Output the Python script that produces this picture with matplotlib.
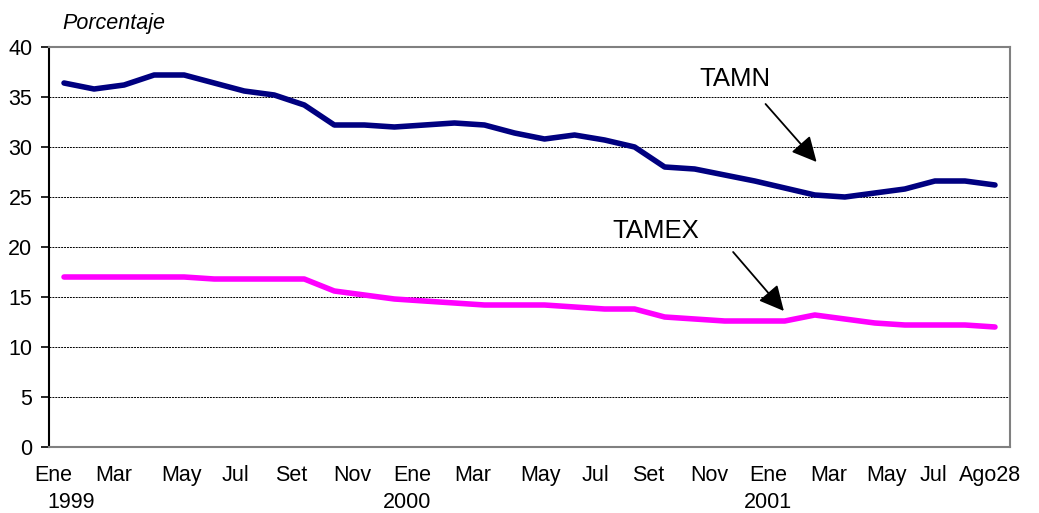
import matplotlib
matplotlib.use("Agg")
import matplotlib.pyplot as plt
import matplotlib.transforms as mtransforms

plt.rcParams['font.family'] = ['Liberation Sans', 'DejaVu Sans']

# Tasas mensuales, Ene 1999 - Ago 2001
meses = ['Ene', 'Feb', 'Mar', 'Abr', 'May', 'Jun', 'Jul', 'Ago', 'Set', 'Oct', 'Nov', 'Dic'] * 2 + \
        ['Ene', 'Feb', 'Mar', 'Abr', 'May', 'Jun', 'Jul', 'Ago']
tamn = [36.4, 35.8, 36.2, 37.2, 37.2, 36.4, 35.6, 35.2, 34.2, 32.2, 32.2, 32.0,
        32.2, 32.4, 32.2, 31.4, 30.8, 31.2, 30.7, 30.0, 28.0, 27.8, 27.2, 26.6,
        25.9, 25.2, 25.0, 25.4, 25.8, 26.6, 26.6, 26.2]
tamex = [17.0, 17.0, 17.0, 17.0, 17.0, 16.8, 16.8, 16.8, 16.8, 15.6, 15.2, 14.8,
         14.6, 14.4, 14.2, 14.2, 14.2, 14.0, 13.8, 13.8, 13.0, 12.8, 12.6, 12.6,
         12.6, 13.2, 12.8, 12.4, 12.2, 12.2, 12.2, 12.0]

# etiquetas del eje x (cada dos meses + último dato)
idx_etiq = [0, 2, 4, 6, 8, 10, 12, 14, 16, 18, 20, 22, 24, 26, 28, 30, 31]
desplaz = [-0.35, -0.35, -0.1, -0.3, -0.45, -0.4, -0.4, -0.4, -0.15, -0.3,
           -0.55, -0.5, -0.55, -0.55, -0.6, -1.05, -0.15]
etiquetas = [meses[i] for i in idx_etiq[:-1]] + ['Ago28']
anios = {'1999': 0, '2000': 12, '2001': 24}

x = list(range(len(tamn)))

fig = plt.figure(figsize=(10.39, 5.13), dpi=100)
ax = fig.add_axes([49 / 1039, 66 / 513, 961 / 1039, 400 / 513])

ax.plot(x, tamn, color='#000080', lw=4.0, solid_capstyle='round', zorder=3)
ax.plot(x, tamex, color='#FF00FF', lw=4.0, solid_capstyle='round', zorder=3)

ax.set_xlim(-0.5, len(tamn) - 0.5)
ax.set_ylim(0, 40)
ax.set_yticks(range(0, 41, 5))
ax.yaxis.grid(True, color='black', linestyle=(0, (2, 1)), lw=0.7)
ax.set_axisbelow(True)

for s in ['top', 'right', 'bottom']:
    ax.spines[s].set_color('#808080')
    ax.spines[s].set_linewidth(1.5)
ax.spines['left'].set_color('black')
ax.spines['left'].set_linewidth(1.5)

ax.tick_params(axis='y', length=6, width=1.2, pad=6, labelsize=15.5)
ax.set_xticks([i + d for i, d in zip(idx_etiq, desplaz)])
ax.set_xticklabels(etiquetas, fontsize=15.5)
ax.tick_params(axis='x', length=0, pad=13)

tr = mtransforms.blended_transform_factory(ax.transData, ax.transAxes)
for anio, i in anios.items():
    if anio == '1999':
        ax.text(i - 0.55, -0.14, anio, transform=tr, ha='left', va='center', fontsize=15.5)
    else:
        ax.text(i + 0.24, -0.14, anio, transform=tr, ha='right', va='center', fontsize=15.5)

fig.text(62 / 1039, 1 - 24 / 513, 'Porcentaje', style='italic', fontsize=15.5,
         ha='left', va='center')

flecha = dict(arrowstyle='-|>', color='black', lw=1.3, mutation_scale=38,
              shrinkA=0, shrinkB=0)
ax.annotate('', xy=(25.06, 28.5), xytext=(23.36, 34.3), arrowprops=flecha)
ax.text(22.33, 36.8, 'TAMN', ha='center', va='center', fontsize=18.5)
ax.annotate('', xy=(23.97, 13.6), xytext=(22.28, 19.5), arrowprops=flecha)
ax.text(19.7, 21.6, 'TAMEX', ha='center', va='center', fontsize=18.5)

fig.savefig('out.png', dpi=100)
